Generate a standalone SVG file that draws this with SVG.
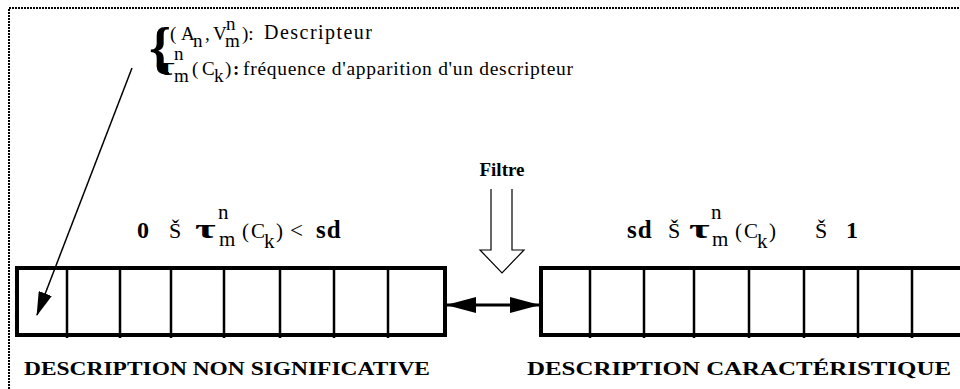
<svg xmlns="http://www.w3.org/2000/svg" width="960" height="389" viewBox="0 0 960 389">
<style>
  .t { font-family: "Liberation Serif", "Times New Roman", serif; fill: #000; }
  .b { font-weight: bold; }
  .box { fill: #fff; stroke: #000; stroke-width: 4; }
  .div { stroke: #000; stroke-width: 2.5; }
  .ln { stroke: #000; fill: none; }
</style>
<defs>
  <marker id="ah" viewBox="0 0 30 16" refX="29" refY="8" markerWidth="30" markerHeight="16" markerUnits="userSpaceOnUse" orient="auto-start-reverse">
    <path d="M0,0 L30,8 L0,16 Z" fill="#000"/>
  </marker>
  <marker id="ah2" viewBox="0 0 24 14" refX="23" refY="7" markerWidth="24" markerHeight="14" markerUnits="userSpaceOnUse" orient="auto">
    <path d="M0,0 L24,7 L0,14 Z" fill="#000"/>
  </marker>
</defs>
<rect width="960" height="389" fill="#fff"/>
<path d="M9,389 V8 H960" fill="none" stroke="#000" stroke-width="2" stroke-dasharray="2,1"/>

<g id="legend">
  <text class="t b" x="149" y="67" font-size="56">{</text>
  <text class="t" font-size="19"><tspan x="170" y="40">(</tspan><tspan x="181" y="40">A</tspan><tspan x="193" y="47">n</tspan><tspan x="205" y="40">,</tspan><tspan x="213" y="40">V</tspan><tspan x="226" y="30">n</tspan><tspan x="225" y="47">m</tspan><tspan x="242" y="40">):</tspan></text>
  <text class="t" x="264" y="39" font-size="20" textLength="108" lengthAdjust="spacing">Descripteur</text>
  <text class="t b" font-size="26" transform="translate(156 75) scale(1.55 1)">τ</text>
  <text class="t" x="174" y="60" font-size="19">n</text>
  <text class="t" font-size="19"><tspan x="174" y="82">m</tspan><tspan x="192" y="75">(</tspan><tspan x="202" y="75">C</tspan><tspan x="214" y="82">k</tspan><tspan x="225" y="75">)</tspan></text>
  <text class="t b" x="233" y="75" font-size="19">:</text>
  <text class="t" x="243" y="75" font-size="19.5" textLength="330" lengthAdjust="spacing">fréquence d'apparition d'un descripteur</text>
</g>

<g id="filtre">
  <text class="t b" x="502" y="176" font-size="19" text-anchor="middle">Filtre</text>
  <path class="ln" stroke-width="1.2" d="M491,189 V250 H480 L502,273 L524,250 H512 V189"/>
</g>

<g id="cond-left">
  <text class="t b" x="137" y="238" font-size="24">0</text>
  <text class="t" x="169" y="238" font-size="22">Š</text>
  <text class="t b" font-size="28" transform="translate(195 238) scale(1.6 1)">τ</text>
  <text class="t" x="218" y="219" font-size="21">n</text>
  <text class="t" font-size="21"><tspan x="219" y="246">m</tspan><tspan x="242" y="238">(</tspan><tspan x="251" y="238">C</tspan><tspan x="264" y="248">k</tspan><tspan x="276" y="238">)</tspan></text>
  <text class="t" x="290" y="238" font-size="23">&lt;</text>
  <text class="t b" x="316" y="238" font-size="25" letter-spacing="1">sd</text>
</g>

<g id="cond-right">
  <text class="t b" x="627" y="238" font-size="25" letter-spacing="1">sd</text>
  <text class="t" x="668" y="238" font-size="22">Š</text>
  <text class="t b" font-size="28" transform="translate(689 238) scale(1.6 1)">τ</text>
  <text class="t" x="711" y="219" font-size="21">n</text>
  <text class="t" font-size="21"><tspan x="712" y="246">m</tspan><tspan x="735" y="238">(</tspan><tspan x="744" y="238">C</tspan><tspan x="757" y="248">k</tspan><tspan x="769" y="238">)</tspan></text>
  <text class="t" x="815" y="238" font-size="22">Š</text>
  <text class="t b" x="846" y="238" font-size="24">1</text>
</g>

<g id="box-left">
  <rect class="box" x="17" y="268" width="428" height="67"/>
  <path class="div" d="M67,268 V338 M120,268 V338 M171,268 V338 M224,268 V338 M280,268 V338 M334,268 V338 M388,268 V338"/>
</g>

<g id="box-right">
  <rect class="box" x="541" y="268" width="440" height="67"/>
  <path class="div" d="M590,268 V338 M644,268 V338 M694,268 V338 M749,268 V338 M804,268 V338 M858,268 V338 M912,268 V338"/>
</g>

<g id="label-left">
  <text class="t b" x="24" y="375" font-size="19" textLength="406" lengthAdjust="spacingAndGlyphs">DESCRIPTION NON SIGNIFICATIVE</text>
</g>
<g id="label-right">
  <text class="t b" x="527" y="375" font-size="19" textLength="424" lengthAdjust="spacingAndGlyphs">DESCRIPTION CARACTÉRISTIQUE</text>
</g>

<g id="connectors">
  <line class="ln" stroke-width="1.5" x1="132" y1="68" x2="37" y2="315" marker-end="url(#ah2)"/>
  <line class="ln" stroke-width="3" x1="447" y1="305" x2="539" y2="305" marker-start="url(#ah)" marker-end="url(#ah)"/>
</g>
</svg>
